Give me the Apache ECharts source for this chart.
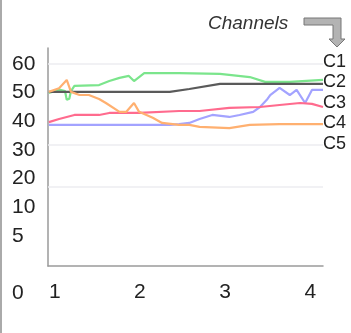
<!DOCTYPE html>
<html>
<head>
<meta charset="utf-8">
<script src="https://cdn.jsdelivr.net/npm/echarts@6/dist/echarts.min.js"></script>
<style>
  html, body { margin: 0; padding: 0; background: #fff; }
  #chart { width: 351px; height: 333px; }
</style>
</head>
<body>
<div id="chart"></div>
<script>
// channel names and [x, value] points
var names = ['C1', 'C2', 'C3', 'C4', 'C5'];
var c1 = [[0.93,49.8],[1.05,51],[1.12,50.5],[1.14,47.4],[1.17,47.8],[1.19,50.5],[1.23,52.3],[1.52,52.6],[1.64,54.0],[1.76,55.1],[1.87,55.8],[1.93,54.0],[2.05,56.8],[2.46,56.8],[2.94,56.5],[3.29,55.4],[3.47,53.7],[3.76,53.7],[4.15,54.4]];
var c2 = [[0.93,50.2],[2.35,50.2],[2.58,51.2],[2.94,53.0],[4.15,53.0]];
var c3 = [[0.93,38.6],[2.35,38.6],[2.46,38.9],[2.58,39.3],[2.70,40.7],[2.85,42.1],[3.05,41.4],[3.17,42.1],[3.33,43.2],[3.41,44.9],[3.49,47.4],[3.53,49.1],[3.64,51.6],[3.76,49.1],[3.84,50.9],[3.94,46.3],[4.02,50.9],[4.15,50.9]];
var c4 = [[0.93,39.6],[1.05,40.7],[1.23,42.1],[1.52,42.1],[1.64,42.8],[1.99,42.8],[2.46,43.5],[2.70,43.5],[3.05,44.6],[3.41,44.9],[3.64,45.6],[3.88,46.3],[4.02,46.0],[4.15,44.9]];
var c5 = [[0.93,50.2],[1.05,51.5],[1.14,54.4],[1.19,50.2],[1.29,49.1],[1.40,49.1],[1.52,47.7],[1.60,46.3],[1.76,43.2],[1.84,43.2],[1.93,46.3],[1.99,43.2],[2.15,41.1],[2.26,39.3],[2.46,38.6],[2.58,38.6],[2.70,37.9],[3.05,37.5],[3.29,38.6],[3.64,38.9],[4.15,38.9]];
var xTicks = [1, 2, 3, 4];
var yLabels = ['0', '', '5', '10', '20', '30', '40', '50', '60'];
var gridValues = [60, 31.6, 17];

var font = '"Liberation Sans", Arial, sans-serif';
var colors = ['#7be58c', '#5a5a5a', '#a3a3ff', '#ff6b8e', '#ffb070'];

var mychart = echarts.init(document.getElementById('chart'));

var seriesData = [c1, c2, c3, c4, c5];
var series = seriesData.map(function (d, i) {
  var s = {
    name: names[i],
    type: 'line',
    xAxisIndex: 0,
    yAxisIndex: 0,
    data: d,
    showSymbol: false,
    symbol: 'none',
    lineStyle: { width: 2.2, color: colors[i] },
    itemStyle: { color: colors[i] },
    z: 3
  };
  if (i == 0) {
    s.markLine = {
      silent: true,
      symbol: 'none',
      label: { show: false },
      lineStyle: { type: 'solid', color: '#ececf1', width: 1.5 },
      data: gridValues.map(function (v) { return { yAxis: v }; })
    };
  }
  return s;
});

var option = {
  animation: false,
  textStyle: { fontFamily: font },
  title: {
    text: 'Channels',
    left: 203,
    top: 9,
    textStyle: { fontSize: 19, fontStyle: 'italic', fontWeight: 'normal', color: '#333', fontFamily: font }
  },
  legend: {
    orient: 'vertical',
    left: 313,
    top: 47,
    icon: 'none',
    itemWidth: 0,
    itemHeight: 14,
    itemGap: 0.5,
    data: names,
    textStyle: { fontSize: 18, color: '#222', lineHeight: 20, fontFamily: font }
  },
  grid: [
    { left: 48, top: 48, right: 28, bottom: 67 },
    { left: 12, top: 64, right: 300, bottom: 40 }
  ],
  xAxis: [{
    type: 'value',
    gridIndex: 0,
    min: 0.92,
    max: 4.15,
    axisLine: { show: true, onZero: false, lineStyle: { color: '#9a9a9a', width: 1.5 } },
    axisTick: { show: false },
    splitLine: { show: false },
    axisLabel: { customValues: xTicks, fontSize: 21, color: '#222', margin: 16, fontFamily: font }
  }, {
    type: 'value',
    gridIndex: 1,
    show: false
  }],
  yAxis: [{
    type: 'value',
    gridIndex: 0,
    min: -10.9,
    max: 65.6,
    axisLine: { show: true, lineStyle: { color: '#9a9a9a', width: 1.5 } },
    axisTick: { show: false },
    axisLabel: { show: false },
    splitLine: { show: false }
  }, {
    type: 'category',
    gridIndex: 1,
    data: yLabels,
    boundaryGap: false,
    axisLine: { show: false },
    axisTick: { show: false },
    splitLine: { show: false },
    axisLabel: { interval: 0, align: 'left', margin: 0, fontSize: 21, color: '#222', fontFamily: font }
  }],
  graphic: [{
    type: 'line',
    shape: { x1: 1, y1: 0, x2: 1, y2: 333 },
    style: { stroke: '#aaa', lineWidth: 2 }
  }, {
    type: 'polygon',
    shape: { points: [[304,18],[341,18],[341,39],[345,39],[337,47],[329,39],[333,39],[333,25],[304,25]] },
    style: { fill: '#b3b3b3', stroke: '#777', lineWidth: 1 }
  }],
  series: series
};

mychart.setOption(option);

window.addEventListener('resize', function () {
  mychart.resize();
});
</script>
</body>
</html>
